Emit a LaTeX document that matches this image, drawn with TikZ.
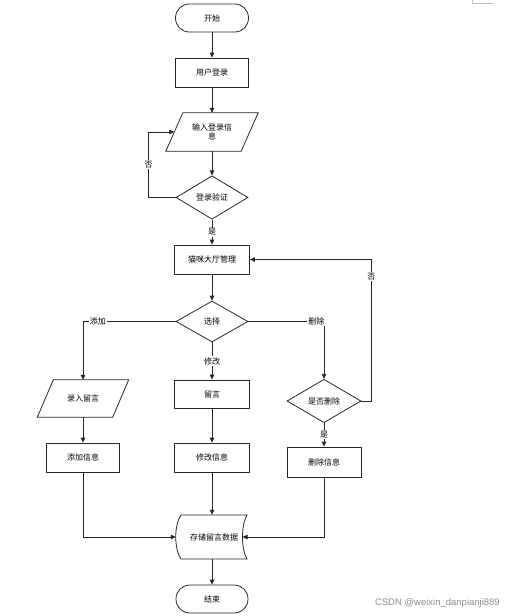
\documentclass[tikz,border=0pt]{standalone}
\usepackage{fontspec}
\newfontfamily\cjk{Noto Sans CJK SC}
\newfontfamily\wmfont{Liberation Sans}
\usetikzlibrary{shapes.geometric,arrows.meta,calc}
\begin{document}
\begin{tikzpicture}[x=1pt,y=-1pt,
  every node/.style={font=\cjk\fontsize{8}{9.5}\selectfont, inner sep=1pt, text=black},
  line/.style={draw=black!85, line width=0.8pt},
  arr/.style={line, -{Triangle[length=5pt,width=4.5pt]}},
  term/.style={line, rectangle, rounded corners=13.8pt, minimum width=73pt, minimum height=28pt},
  proc/.style={line, rectangle, minimum width=74pt, minimum height=29pt},
  dec/.style={line, diamond, minimum width=72pt, minimum height=41pt},
  pbody/.style={rectangle, minimum width=75pt, minimum height=37pt, align=center},
  lab/.style={fill=white, inner sep=1pt}]
\useasboundingbox (0,0) rectangle (504,616);

% nodes
\node[term] (start) at (212,18) {开始};
\node[proc, minimum width=73pt] (login) at (212,72.5) {用户登录};
\node[pbody, minimum height=38pt] (in) at (212,132) {输入登录信\\息};
\draw[line] ($(in.north west)+(8.5,0)$) -- ($(in.north east)+(8.5,0)$)
  -- ($(in.south east)+(-8.5,0)$) -- ($(in.south west)+(-8.5,0)$) -- cycle;
\node[dec] (verify) at (212,197.5) {登录验证};
\node[proc, minimum width=75pt] (hall) at (212,259.5) {猫咪大厅管理};
\node[dec] (sel) at (212,321.5) {选择};

\node[pbody] (rec) at (83,398.5) {录入留言};
\draw[line] ($(rec.north west)+(8,0)$) -- ($(rec.north east)+(8,0)$)
  -- ($(rec.south east)+(-8,0)$) -- ($(rec.south west)+(-8,0)$) -- cycle;
\node[proc, minimum width=73pt] (add) at (83,457.5) {添加信息};

\node[proc, minimum width=75pt, minimum height=28pt] (msg) at (212,394) {留言};
\node[proc, minimum width=75pt] (mod) at (212,457.5) {修改信息};

\node[dec, minimum width=74pt, minimum height=42pt] (del) at (324,401) {是否删除};
\node[proc, minimum width=74pt, minimum height=30pt] (deli) at (324,462) {删除信息};

\node[rectangle, minimum width=66pt, minimum height=44pt] (store) at (214,537) {存储留言数据};
\draw[line] (181,515) -- (247,515) .. controls (241,525) and (241,549) .. (247,559)
  -- (181,559) .. controls (174,549) and (174,525) .. (181,515);
\coordinate (storeL) at (175.8,537);
\coordinate (storeR) at (242.5,537);

\node[term, minimum width=72pt] (end) at (212,599) {结束};

% connectors
\draw[arr] (start) -- (login);
\draw[arr] (login) -- (in);
\draw[arr] (in) -- (verify);
\draw[arr] (verify.west) -- ++(-27,0) |- node[lab, pos=0.25] {否} (in.west);
\draw[arr] (verify) -- node[lab] {是} (hall);
\draw[arr] (hall) -- (sel);
\draw[arr] (sel.west) -| node[lab, pos=0.42] {添加} (rec);
\draw[arr] (sel) -- node[lab] {修改} (msg);
\draw[arr] (sel.east) -| node[lab, pos=0.45] {删除} (del);
\draw[arr] (rec) -- (add);
\draw[arr] (msg) -- (mod);
\draw[arr] (del) -- node[lab] {是} (deli);
\draw[arr] (del.east) -- ++(10,0) |- node[lab, pos=0.44] {否} (hall.east);
\draw[arr] (add) |- (storeL);
\draw[arr] (deli) |- (storeR);
\draw[arr] (mod) -- (mod |- store.north);
\draw[arr] (store.south -| end.north) -- (end);

% watermark and corner mark
\node[font=\wmfont\fontsize{9.5}{10}\selectfont, text=black!45, anchor=east] (wm) at (501,603) {CSDN @weixin\_danpianji889};
\draw[black!25, line width=0.5pt] (472,0) |- (493,3);
\end{tikzpicture}
\end{document}
